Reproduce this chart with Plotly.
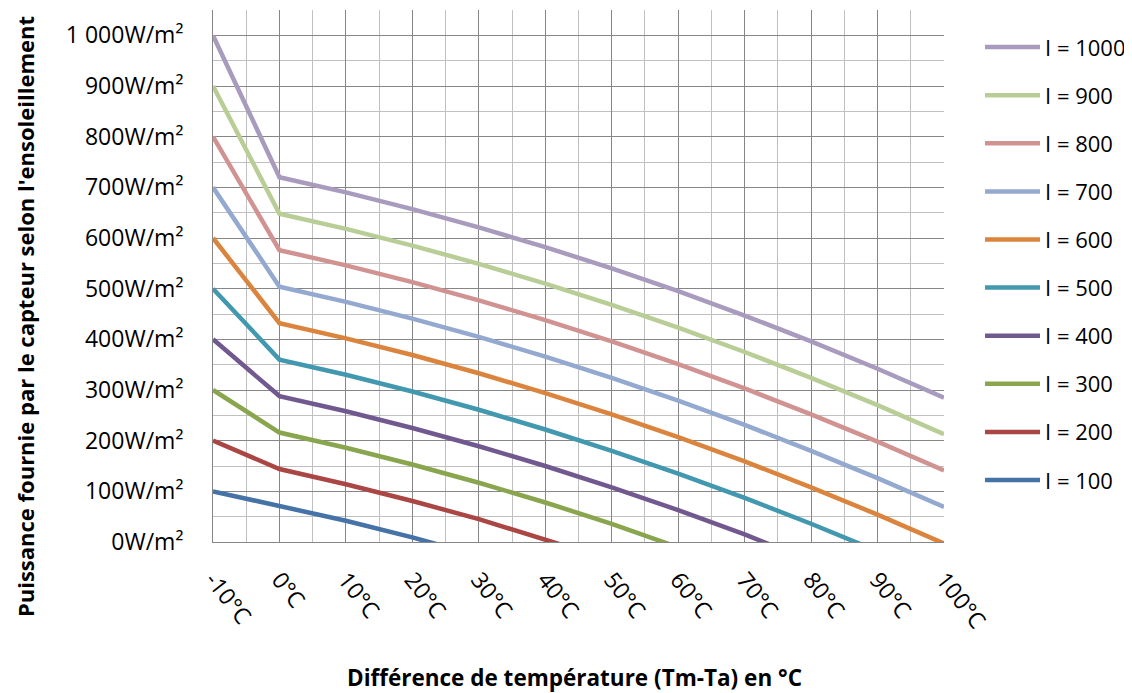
import plotly.graph_objects as go

# Temperature difference categories (°C)
temps = [-10, 0, 10, 20, 30, 40, 50, 60, 70, 80, 90, 100]
temp_labels = ["-10°C", "0°C", "10°C", "20°C", "30°C", "40°C", "50°C",
               "60°C", "70°C", "80°C", "90°C", "100°C"]

# Power delivered (W/m²), one list per irradiance
p1000 = [1000, 720, 690, 657, 621, 582, 540, 495, 447, 396, 342, 285]
p900 = [900, 648, 618, 585, 549, 510, 468, 423, 375, 324, 270, 213]
p800 = [800, 576, 546, 513, 477, 438, 396, 351, 303, 252, 198, 141]
p700 = [700, 504, 474, 441, 405, 366, 324, 279, 231, 180, 126, 69]
p600 = [600, 432, 402, 369, 333, 294, 252, 207, 159, 108, 54, -3]
p500 = [500, 360, 330, 297, 261, 222, 180, 135, 87, 36, -18, -75]
p400 = [400, 288, 258, 225, 189, 150, 108, 63, 15, -36, -90, -147]
p300 = [300, 216, 186, 153, 117, 78, 36, -9, -57, -108, -162, -219]
p200 = [200, 144, 114, 81, 45, 6, -36, -81, -129, -180, -234, -291]
p100 = [100, 72, 42, 9, -27, -66, -108, -153, -201, -252, -306, -363]

series_names = ["I = 1000", "I = 900", "I = 800", "I = 700", "I = 600",
                "I = 500", "I = 400", "I = 300", "I = 200", "I = 100"]
series_values = [p1000, p900, p800, p700, p600, p500, p400, p300, p200, p100]
series_colors = ["#A99BBD", "#B9CD96", "#D19392", "#93A9CF", "#DB843D",
                 "#4198AF", "#71588F", "#89A54E", "#AA4643", "#4572A7"]

y_tickvals = [0, 100, 200, 300, 400, 500, 600, 700, 800, 900, 1000]
y_ticktext = ["0W/m²", "100W/m²", "200W/m²", "300W/m²", "400W/m²", "500W/m²",
              "600W/m²", "700W/m²", "800W/m²", "900W/m²", "1 000W/m²"]

FONT = "Open Sans"
DARK = "#868686"
LIGHT = "#C0C0C0"

fig = go.Figure()
for name, vals, col in zip(series_names, series_values, series_colors):
    fig.add_trace(go.Scatter(
        x=temps, y=vals, name=name, mode="lines",
        line=dict(color=col, width=4.5),
        legendgroup=name,
    ))

fig.update_layout(
    width=1124, height=685,
    margin=dict(l=205, r=188, t=2, b=151, autoexpand=False),
    paper_bgcolor="white", plot_bgcolor="white",
    font=dict(family=FONT, size=23, color="#000000"),
    showlegend=True,
    legend=dict(
        x=1.0493, y=0.9694, xanchor="left", yanchor="top",
        font=dict(family=FONT, size=22, color="#000000"),
        tracegroupgap=16.5, itemwidth=55,
        bgcolor="rgba(0,0,0,0)",
    ),
    xaxis=dict(
        range=[-10, 100], tickmode="array", tickvals=temps, ticktext=temp_labels,
        tickangle=52, showgrid=True, gridcolor=DARK, gridwidth=1,
        minor=dict(dtick=5, tick0=0, showgrid=True, gridcolor=LIGHT, gridwidth=1),
        showline=True, linecolor=DARK, linewidth=1,
        ticks="", zeroline=False, ticklabelstandoff=14, automargin=False,
        tickfont=dict(family=FONT, size=23),
    ),
    yaxis=dict(
        range=[0, 1050], tickmode="array", tickvals=y_tickvals, ticktext=y_ticktext,
        showgrid=True, gridcolor=DARK, gridwidth=1,
        minor=dict(dtick=50, tick0=0, showgrid=True, gridcolor=LIGHT, gridwidth=1),
        showline=True, linecolor=DARK, linewidth=1,
        ticks="", zeroline=False, ticklabelstandoff=24, automargin=False,
        tickfont=dict(family=FONT, size=23),
    ),
    annotations=[
        dict(text="<b>Puissance fournie par le capteur selon l'ensoleillement</b>",
             xref="paper", yref="paper", x=-0.257, y=0.423,
             xanchor="center", yanchor="middle", textangle=-90, showarrow=False,
             borderpad=0,
             font=dict(family=FONT, size=22, color="#000000")),
        dict(text="<b>Différence de température (Tm-Ta) en °C</b>",
             xref="paper", yref="paper", x=0.495, y=-0.254,
             xanchor="center", yanchor="middle", showarrow=False,
             borderpad=0,
             font=dict(family=FONT, size=22.5, color="#000000")),
    ],
)

fig.write_html("out.html")
